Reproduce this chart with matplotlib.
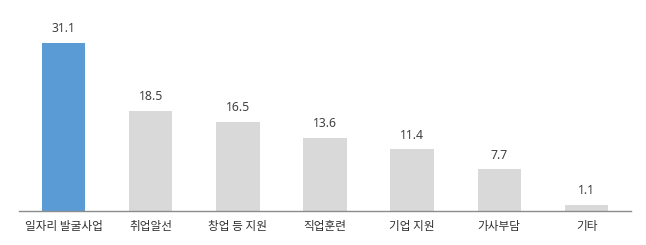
import matplotlib
matplotlib.use("Agg")
import matplotlib.pyplot as plt

plt.rcParams['font.family'] = ['Noto Sans CJK KR', 'DejaVu Sans']

categories = ["일자리 발굴사업", "취업알선", "창업 등 지원", "직업훈련", "기업 지원", "가사부담", "기타"]
values = [31.1, 18.5, 16.5, 13.6, 11.4, 7.7, 1.1]
highlight = 0

W, H = 646, 245
fig = plt.figure(figsize=(W / 100, H / 100), dpi=100)
ax_left, ax_right, ax_base = 19, 631, 211
ymax = 38
px_per_unit = 5.40
ax_h = ymax * px_per_unit
ax = fig.add_axes([ax_left / W, (H - ax_base) / H, (ax_right - ax_left) / W, ax_h / H])

colors = ["#5B9BD5" if i == highlight else "#D9D9D9" for i in range(len(values))]
x = list(range(len(values)))
bars = ax.bar(x, values, width=0.5, color=colors, zorder=2)

for xi, v in zip(x, values):
    ax.annotate(f"{v:.1f}", (xi, v), xytext=(0, 5.5), textcoords="offset points",
                ha="center", va="bottom", fontsize=8.8, color="#404040",
                family=['Noto Sans', 'DejaVu Sans'])

ax.set_xlim(-0.51, len(values) - 0.49)
ax.set_ylim(0, ymax)
ax.set_xticks(x)
ax.set_xticklabels(categories, fontsize=8.4, color="#303030")
ax.tick_params(axis="x", length=0, pad=6.5)
ax.set_yticks([])
for side in ["top", "right", "left"]:
    ax.spines[side].set_visible(False)
ax.spines["bottom"].set_color("#8C8C8C")
ax.spines["bottom"].set_linewidth(1.0)

fig.savefig("out.png", dpi=100, facecolor="white")
